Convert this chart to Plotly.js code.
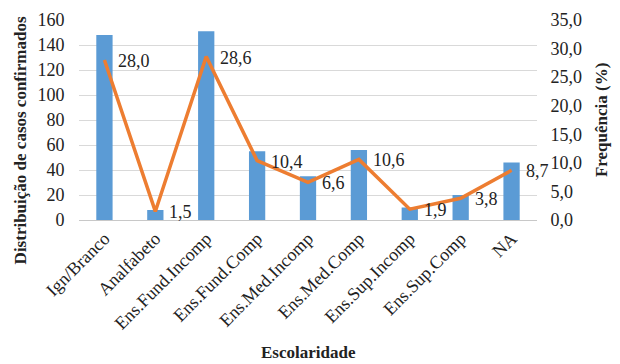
<!DOCTYPE html>
<html>
<head>
<meta charset="utf-8">
<script src="https://cdn.plot.ly/plotly-3.0.1.min.js"></script>
<style>html,body{margin:0;padding:0;background:#fff;overflow:hidden;}#chart{width:620px;height:364px;}</style>
</head>
<body>
<div id="chart"></div>
<script>
// Escolaridade dos casos confirmados: contagem (barras) e frequência relativa (linha)
const categories = ['Ign/Branco', 'Analfabeto', 'Ens.Fund.Incomp', 'Ens.Fund.Comp', 'Ens.Med.Incomp',
                    'Ens.Med.Comp', 'Ens.Sup.Incomp', 'Ens.Sup.Comp', 'NA'];
const casos = [148, 8, 151, 55, 35, 56, 10, 20, 46];
const frequencia = [28.0, 1.5, 28.6, 10.4, 6.6, 10.6, 1.9, 3.8, 8.7];
const leftTicks = [0, 20, 40, 60, 80, 100, 120, 140, 160];
const rightTicks = [0, 5, 10, 15, 20, 25, 30, 35];

const serif = '"Liberation Serif", "Times New Roman", serif';
const fmt = v => v.toFixed(1).replace('.', ',');

const bars = {
  type: 'bar', x: categories, y: casos,
  marker: {color: '#5b9bd5'}, hoverinfo: 'x+y'
};
const line = {
  type: 'scatter', mode: 'lines', x: categories, y: frequencia, yaxis: 'y2',
  line: {color: '#ed7d31', width: 3.5}
};

const labels = categories.map((c, i) => ({
  x: c, y: frequencia[i], xref: 'x', yref: 'y2',
  text: fmt(frequencia[i]), showarrow: false,
  xanchor: 'left', yanchor: 'middle', xshift: 12, yshift: -1,
  font: {family: serif, size: 18, color: '#222'}
}));

const titles = [
  {text: '<b>Distribuição de casos confirmados</b>', textangle: -90, xref: 'paper', yref: 'paper',
   x: -0.128, y: 0.4, xanchor: 'center', yanchor: 'middle', showarrow: false,
   font: {family: serif, size: 17, color: '#222'}},
  {text: '<b>Frequência (%)</b>', textangle: -90, xref: 'paper', yref: 'paper',
   x: 1.14, y: 0.5, xanchor: 'center', yanchor: 'middle', showarrow: false,
   font: {family: serif, size: 17, color: '#222'}},
  {text: '<b>Escolaridade</b>', xref: 'paper', yref: 'paper',
   x: 0.5, y: -0.66, xanchor: 'center', yanchor: 'middle', showarrow: false,
   font: {family: serif, size: 17, color: '#222'}}
];

// invisible tick marks keep the tick labels clear of the plot edge
const layout = {
  width: 620, height: 364,
  margin: {l: 79, r: 83, t: 20, b: 144},
  paper_bgcolor: '#fff', plot_bgcolor: '#fff',
  showlegend: false, bargap: 0.68,
  separators: ',.',
  font: {family: serif, size: 18, color: '#222'},
  xaxis: {
    automargin: false, range: [-0.5, categories.length - 0.5], autorange: false,
    tickangle: -45, tickfont: {family: serif, size: 18, color: '#222'},
    showline: true, linecolor: '#c8c8c8', linewidth: 1, ticks: '', showgrid: false
  },
  yaxis: {
    automargin: false, autorange: false,
    range: [0, 160], tickvals: leftTicks, showline: false,
    ticks: 'outside', ticklen: 10, tickcolor: 'rgba(0,0,0,0)',
    gridcolor: '#d9d9d9', gridwidth: 1, zeroline: false,
    tickfont: {family: serif, size: 18, color: '#222'}
  },
  yaxis2: {
    automargin: false, autorange: false,
    overlaying: 'y', side: 'right', range: [0, 35], tickvals: rightTicks,
    ticks: 'outside', ticklen: 9, tickcolor: 'rgba(0,0,0,0)',
    tickformat: '.1f', showgrid: false, zeroline: false, showline: false,
    tickfont: {family: serif, size: 18, color: '#222'}
  },
  annotations: labels.concat(titles)
};

Plotly.newPlot('chart', [bars, line], layout, {displayModeBar: false, staticPlot: true});
</script>
</body>
</html>
